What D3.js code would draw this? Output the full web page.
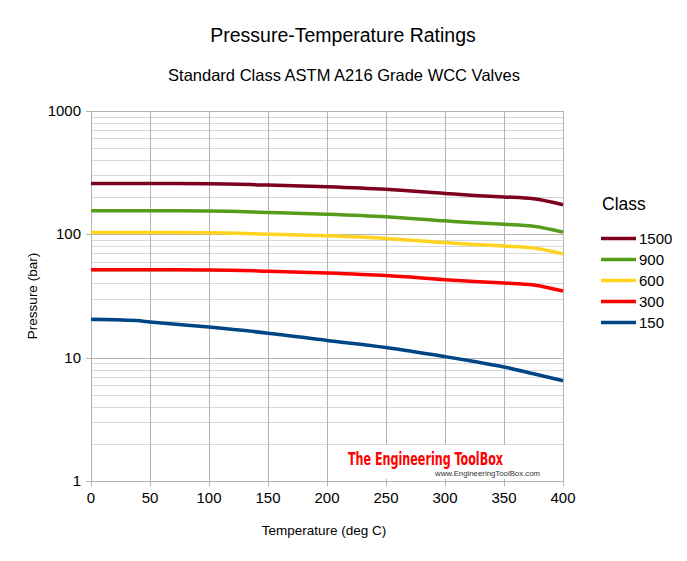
<!DOCTYPE html>
<html>
<head>
<meta charset="utf-8">
<style>
html, body { margin: 0; background: #fff; }
text { font-family: "Liberation Sans", Arial, sans-serif; fill: #000; }
.grid-minor line { stroke: #d9d9d9; stroke-width: 1px; }
.grid-major line { stroke: #b3b3b3; stroke-width: 1px; }
.series { fill: none; stroke-width: 3.5px; stroke-linejoin: round; }
</style>
<script src="https://cdn.jsdelivr.net/npm/d3@7"></script>
</head>
<body>
<svg id="chart" width="687" height="561"></svg>
<script>
// temperatures (deg C) and ratings (bar) for each class
var temps = [0, 38, 50, 100, 150, 200, 250, 300, 325, 350, 375, 400];
var class1500 = [258.6, 258.6, 258.6, 257.6, 250.8, 243.2, 231.8, 214.4, 206.6, 201.1, 194.1, 173.6];
var class900 = [155.1, 155.1, 155.1, 154.6, 150.6, 145.8, 139.0, 128.6, 124.0, 120.7, 116.5, 104.2];
var class600 = [103.4, 103.4, 103.4, 103.0, 100.3, 97.2, 92.7, 85.7, 82.6, 80.4, 77.6, 69.4];
var class300 = [51.7, 51.7, 51.7, 51.5, 50.3, 48.6, 46.3, 42.9, 41.4, 40.3, 38.9, 34.7];
var class150 = [20.5, 20.0, 19.5, 17.7, 15.8, 13.8, 12.1, 10.2, 9.3, 8.4, 7.4, 6.5];

var classNames = ["1500", "900", "600", "300", "150"];
var classColors = ["#7e0021", "#579d1c", "#ffd320", "#ff0000", "#004586"];
var xTicks = [0, 50, 100, 150, 200, 250, 300, 350, 400];
var yTicks = [1, 10, 100, 1000];

var series = [class1500, class900, class600, class300, class150].map(function(vals, i) {
  return { name: classNames[i], color: classColors[i],
           points: vals.map(function(v, j) { return [temps[j], v]; }) };
});

var svg = d3.select("#chart");

var x = d3.scaleLinear().domain([0, 400]).range([91, 563]);
var y = d3.scaleLog().domain([1, 1000]).range([481, 111]);

// minor horizontal grid (2..9 in each decade)
var minor = [];
[1, 10, 100].forEach(function(d) {
  for (var k = 2; k <= 9; k++) minor.push(d * k);
});

svg.append("g").attr("class", "grid-minor")
  .selectAll("line").data(minor).enter().append("line")
    .attr("x1", x(0)).attr("x2", x(400))
    .attr("y1", d => Math.round(y(d)) + 0.5)
    .attr("y2", d => Math.round(y(d)) + 0.5);

var major = svg.append("g").attr("class", "grid-major");
major.selectAll("line.h").data(yTicks).enter().append("line")
    .attr("class", "h")
    .attr("x1", x(0) - 5).attr("x2", x(400))
    .attr("y1", d => Math.round(y(d)) + 0.5)
    .attr("y2", d => Math.round(y(d)) + 0.5);
major.selectAll("line.v").data(xTicks).enter().append("line")
    .attr("class", "v")
    .attr("x1", d => Math.round(x(d)) + 0.5)
    .attr("x2", d => Math.round(x(d)) + 0.5)
    .attr("y1", y(1000)).attr("y2", y(1) + 5);

// watermark box hides the grid behind it
svg.append("rect")
    .attr("x", 340).attr("y", 445).attr("width", 215).attr("height", 34)
    .attr("fill", "#fff");
svg.append("text")
    .attr("x", 348).attr("y", 465)
    .attr("textLength", 155).attr("lengthAdjust", "spacingAndGlyphs")
    .style("font-family", "'DejaVu Sans Condensed', 'DejaVu Sans', sans-serif")
    .style("font-weight", "bold").style("font-size", "17px")
    .style("fill", "#ff0000")
    .text("The Engineering ToolBox");
svg.append("text")
    .attr("x", 435).attr("y", 476)
    .attr("textLength", 105).attr("lengthAdjust", "spacingAndGlyphs")
    .style("font-size", "8px").style("fill", "#333")
    .text("www.EngineeringToolBox.com");

// series lines
var line = d3.line().curve(d3.curveMonotoneX).x(d => x(d[0])).y(d => y(d[1]));
svg.append("g").selectAll("path").data(series).enter().append("path")
    .attr("class", "series")
    .attr("stroke", d => d.color)
    .attr("d", d => line(d.points));

// tick labels
svg.append("g").selectAll("text").data(yTicks).enter().append("text")
    .attr("x", 81).attr("y", d => y(d) + 5)
    .attr("text-anchor", "end").style("font-size", "15px")
    .text(d => d);
svg.append("g").selectAll("text").data(xTicks).enter().append("text")
    .attr("x", d => x(d)).attr("y", 503)
    .attr("text-anchor", "middle").style("font-size", "15px")
    .text(d => d);

// titles
svg.append("text").attr("x", 343).attr("y", 42)
    .attr("text-anchor", "middle").style("font-size", "19.5px")
    .text("Pressure-Temperature Ratings");
svg.append("text").attr("x", 344).attr("y", 81)
    .attr("text-anchor", "middle").style("font-size", "16.5px")
    .text("Standard Class ASTM A216 Grade WCC Valves");
svg.append("text").attr("x", 324).attr("y", 535)
    .attr("text-anchor", "middle").style("font-size", "13.5px")
    .text("Temperature (deg C)");
svg.append("text")
    .attr("transform", "translate(37,296) rotate(-90)")
    .attr("text-anchor", "middle").style("font-size", "13.5px")
    .text("Pressure (bar)");

// legend
var legend = svg.append("g");
legend.append("text").attr("x", 602).attr("y", 210)
    .style("font-size", "17.5px").text("Class");
var item = legend.selectAll("g.item").data(series).enter().append("g")
    .attr("class", "item")
    .attr("transform", (d, i) => "translate(0," + (238.5 + i * 21) + ")");
item.append("line")
    .attr("x1", 601).attr("x2", 636)
    .attr("stroke", d => d.color).attr("stroke-width", 3.5);
item.append("text").attr("x", 639).attr("y", 5.5)
    .style("font-size", "15px").text(d => d.name);
</script>
</body>
</html>
